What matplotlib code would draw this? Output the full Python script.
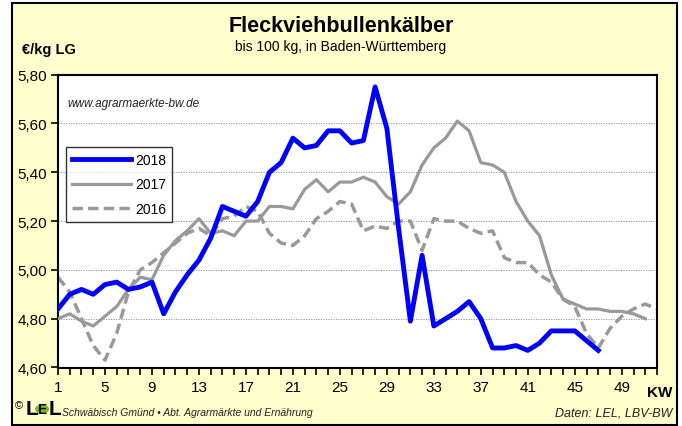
import numpy as np
import matplotlib.pyplot as plt
from matplotlib import font_manager
from matplotlib.patches import Rectangle, Circle
from matplotlib.ticker import MultipleLocator, FixedLocator, FuncFormatter

# --- Daten (KW, €/kg LG) ---
weeks_2018 = list(range(1, 48))
price_2018 = [4.84, 4.90, 4.92, 4.90, 4.94, 4.95, 4.92, 4.93, 4.95, 4.82,
              4.91, 4.98, 5.04, 5.13, 5.26, 5.24, 5.22, 5.28, 5.40, 5.44,
              5.54, 5.50, 5.51, 5.57, 5.57, 5.52, 5.53, 5.75, 5.58, 5.17,
              4.79, 5.06, 4.77, 4.80, 4.83, 4.87, 4.80, 4.68, 4.68, 4.69,
              4.67, 4.70, 4.75, 4.75, 4.75, 4.71, 4.67]

weeks_2017 = list(range(1, 52))
price_2017 = [4.80, 4.82, 4.79, 4.77, 4.81, 4.85, 4.92, 4.97, 4.96, 5.06,
              5.12, 5.16, 5.21, 5.15, 5.16, 5.14, 5.20, 5.20, 5.26, 5.26,
              5.25, 5.33, 5.37, 5.32, 5.36, 5.36, 5.38, 5.36, 5.30, 5.27,
              5.32, 5.43, 5.50, 5.54, 5.61, 5.57, 5.44, 5.43, 5.40, 5.28,
              5.20, 5.14, 4.98, 4.88, 4.86, 4.84, 4.84, 4.83, 4.83, 4.82,
              4.80]

weeks_2016 = list(range(1, 53))
price_2016 = [4.97, 4.91, 4.80, 4.69, 4.63, 4.74, 4.91, 5.00, 5.03, 5.07,
              5.11, 5.15, 5.17, 5.14, 5.21, 5.22, 5.26, 5.24, 5.15, 5.11,
              5.10, 5.14, 5.21, 5.24, 5.28, 5.27, 5.16, 5.18, 5.17, 5.20,
              5.20, 5.08, 5.21, 5.20, 5.20, 5.17, 5.15, 5.16, 5.05, 5.03,
              5.03, 4.98, 4.95, 4.88, 4.85, 4.74, 4.68, 4.76, 4.81, 4.84,
              4.86, 4.84]

kw_ticks = list(range(1, 53, 4))

# Schrift: schmale Arial-artige Schrift, falls vorhanden
names = {f.name for f in font_manager.fontManager.ttflist}
font = "Liberation Sans Narrow" if "Liberation Sans Narrow" in names else "Liberation Sans"
plt.rcParams["font.family"] = [font, "DejaVu Sans"]

bg = "#FFFFCC"
fig = plt.figure(figsize=(6.82, 4.27), dpi=100)
fig.patch.set_facecolor("white")
W, H = 682, 427
# gelber Hintergrund mit Rahmen
fig.patches.append(Rectangle((12 / W, 1 / H), 665 / W, 422 / H, transform=fig.transFigure,
                             facecolor=bg, edgecolor="black", linewidth=1.5, zorder=-5))

ax = fig.add_axes([58 / W, 1 - 368.5 / H, 599 / W, 292.8 / H])
ax.set_zorder(2)
ax.set_facecolor("white")

ax.plot(weeks_2016, price_2016, color="#999999", lw=2.5, ls=(0, (3, 1.5)), label="2016", zorder=2)
ax.plot(weeks_2017, price_2017, color="#999999", lw=2.3, label="2017", zorder=3)
ax.plot(weeks_2018, price_2018, color="#0000FF", lw=3.5, label="2018", zorder=4)

ax.set_xlim(1, 52)
ax.set_ylim(4.6, 5.8)
ax.xaxis.set_major_locator(FixedLocator(kw_ticks))
ax.xaxis.set_minor_locator(MultipleLocator(1))
ax.yaxis.set_major_locator(MultipleLocator(0.2))
ax.yaxis.set_major_formatter(FuncFormatter(lambda v, p: f"{v:.2f}".replace(".", ",")))
ax.grid(axis="y", color="#888888", ls=(0, (1.5, 1.5)), lw=0.6)
ax.tick_params(axis="x", which="both", direction="out", length=5, width=1.2, labelsize=11, pad=4)
ax.tick_params(axis="y", direction="out", length=5, width=1.2, labelsize=11, pad=3)
for s in ax.spines.values():
    s.set_linewidth(1.5)

handles, labels = ax.get_legend_handles_labels()
leg = ax.legend(handles[::-1], labels[::-1], loc="upper left", bbox_to_anchor=(8 / 599, 1 - 72 / 292.8),
                frameon=True, fancybox=False, fontsize=10, handlelength=4.2, handletextpad=0.3,
                labelspacing=0.75, borderpad=0.45, borderaxespad=0)
leg.get_frame().set_edgecolor("black")
leg.get_frame().set_linewidth(1.0)

ax.text(9 / 599, 1 - 28 / 292.8, "www.agrarmaerkte-bw.de", transform=ax.transAxes,
        fontsize=8.5, style="italic", color="#222222", va="center")

# Titel und Beschriftungen
fig.text(341 / W, 1 - 27 / H, "Fleckviehbullenkälber", ha="center", va="center",
         fontsize=15.5, fontweight="bold")
fig.text(341 / W, 1 - 47 / H, "bis 100 kg, in Baden-Württemberg", ha="center", va="center", fontsize=10)
fig.text(22 / W, 1 - 50 / H, "€/kg LG", ha="left", va="center", fontsize=10.5, fontweight="bold")
fig.text(672 / W, 1 - 393 / H, "KW", ha="right", va="center", fontsize=11, fontweight="bold")
fig.text(672 / W, 1 - 414 / H, "Daten: LEL, LBV-BW", ha="right", va="center", fontsize=9, style="italic",
         color="#222222")

# Logo unten links
fig.text(15 / W, 1 - 406 / H, "©", ha="left", va="center", fontsize=8)
fig.text(26 / W, 1 - 410 / H, "L", ha="left", va="center", fontsize=15, fontweight="bold")
fig.patches.append(Circle((42 / W, 1 - 410 / H), 7 / W, transform=fig.transFigure,
                          facecolor="#7DB628", edgecolor="none", zorder=-1))
fig.text(42 / W, 1 - 410 / H, "E", ha="center", va="center", fontsize=10, fontweight="bold")
fig.text(49 / W, 1 - 410 / H, "L", ha="left", va="center", fontsize=15, fontweight="bold")
fig.text(62 / W, 1 - 413 / H, "Schwäbisch Gmünd • Abt. Agrarmärkte und Ernährung", ha="left",
         va="center", fontsize=7.5, style="italic", color="#222222")

fig.savefig("out.png", dpi=100, facecolor=fig.get_facecolor())
